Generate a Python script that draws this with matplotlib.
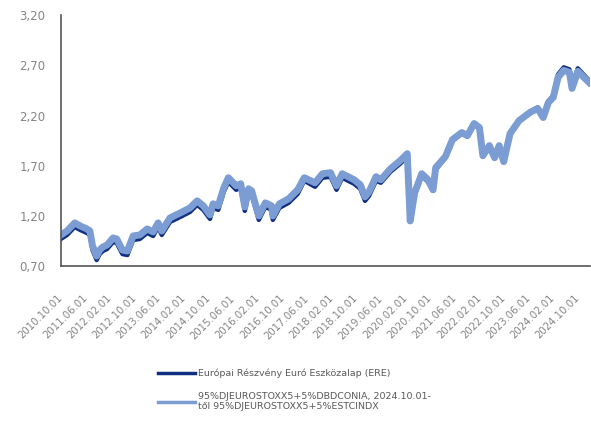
import matplotlib
matplotlib.use("Agg")
import matplotlib.pyplot as plt
import pandas as pd

dates = ["2010-10-01", "2010-12-01", "2011-02-15", "2011-04-10", "2011-06-15",
         "2011-07-15", "2011-08-10", "2011-09-20", "2011-10-20", "2011-11-20",
         "2012-01-01", "2012-03-01", "2012-04-05", "2012-06-01", "2012-07-20",
         "2012-09-15", "2012-11-20", "2013-02-01", "2013-04-01", "2013-05-20",
         "2013-06-25", "2013-09-15", "2014-01-15", "2014-04-01", "2014-06-10",
         "2014-08-10", "2014-10-15", "2014-11-15", "2015-01-05", "2015-03-01",
         "2015-04-15", "2015-07-01", "2015-08-15", "2015-09-25", "2015-11-01",
         "2015-12-01", "2016-02-10", "2016-04-15", "2016-06-15", "2016-06-28",
         "2016-09-01", "2016-12-01", "2017-03-01", "2017-05-05", "2017-08-20",
         "2017-11-01", "2018-01-20", "2018-03-20", "2018-05-15", "2018-09-10",
         "2018-11-10", "2018-12-27", "2019-02-05", "2019-04-15", "2019-06-01",
         "2019-09-05", "2019-12-10", "2020-02-18", "2020-03-18", "2020-05-01",
         "2020-07-10", "2020-09-10", "2020-10-30", "2020-11-25", "2021-03-01",
         "2021-05-10", "2021-08-10", "2021-10-05", "2021-12-10", "2022-02-01",
         "2022-03-07", "2022-05-10", "2022-07-01", "2022-08-15", "2022-09-29",
         "2022-12-01", "2023-03-01", "2023-06-15", "2023-09-01", "2023-10-25",
         "2023-12-15", "2024-02-01", "2024-03-20", "2024-05-15", "2024-07-10",
         "2024-08-05", "2024-10-01", "2025-01-20"]

# fund (ERE)
fund = [0.97, 1.01, 1.09, 1.06, 1.03, 1.01, 0.86, 0.76, 0.82, 0.85,
        0.87, 0.94, 0.93, 0.82, 0.81, 0.96, 0.97, 1.03, 1.00, 1.09,
        1.01, 1.14, 1.20, 1.24, 1.31, 1.26, 1.17, 1.28, 1.26, 1.44,
        1.54, 1.46, 1.48, 1.25, 1.43, 1.41, 1.16, 1.29, 1.26, 1.16,
        1.28, 1.33, 1.42, 1.55, 1.49, 1.58, 1.59, 1.46, 1.58, 1.52,
        1.47, 1.35, 1.40, 1.55, 1.53, 1.64, 1.72, 1.79, 1.14, 1.41,
        1.60, 1.54, 1.45, 1.66, 1.78, 1.95, 2.02, 1.99, 2.11, 2.07,
        1.79, 1.89, 1.77, 1.89, 1.74, 2.02, 2.15, 2.24, 2.28, 2.19,
        2.34, 2.40, 2.61, 2.68, 2.66, 2.50, 2.67, 2.55]

# benchmark
benchmark = [1.01, 1.05, 1.13, 1.10, 1.07, 1.05, 0.90, 0.80, 0.86, 0.89,
             0.91, 0.98, 0.97, 0.86, 0.85, 1.00, 1.01, 1.07, 1.04, 1.13,
             1.05, 1.18, 1.24, 1.28, 1.35, 1.30, 1.21, 1.32, 1.30, 1.48,
             1.58, 1.50, 1.52, 1.29, 1.47, 1.45, 1.20, 1.33, 1.30, 1.20,
             1.32, 1.37, 1.46, 1.58, 1.53, 1.62, 1.63, 1.50, 1.62, 1.56,
             1.51, 1.39, 1.44, 1.59, 1.56, 1.67, 1.75, 1.82, 1.15, 1.43,
             1.62, 1.56, 1.46, 1.68, 1.79, 1.96, 2.03, 2.00, 2.12, 2.08,
             1.80, 1.90, 1.78, 1.90, 1.74, 2.02, 2.15, 2.23, 2.27, 2.18,
             2.33, 2.38, 2.58, 2.65, 2.63, 2.47, 2.64, 2.53]

tick_dates = ["2010-10-01", "2011-06-01", "2012-02-01", "2012-10-01", "2013-06-01",
              "2014-02-01", "2014-10-01", "2015-06-01", "2016-02-01", "2016-10-01",
              "2017-06-01", "2018-02-01", "2018-10-01", "2019-06-01", "2020-02-01",
              "2020-10-01", "2021-06-01", "2022-02-01", "2022-10-01", "2023-06-01",
              "2024-02-01", "2024-10-01"]

y_ticks = [0.70, 1.20, 1.70, 2.20, 2.70, 3.20]

label_fund = "Európai Részvény Euró Eszközalap (ERE)"
label_bench = "95%DJEUROSTOXX5+5%DBDCONIA, 2024.10.01-\ntől 95%DJEUROSTOXX5+5%ESTCINDX"

dark_blue = "#102f80"
light_blue = "#7b9dd4"
grey = "#858585"

x = pd.to_datetime(dates)
ticks = pd.to_datetime(tick_dates)

fig = plt.figure(figsize=(5.91, 4.21), dpi=100)
ax = fig.add_axes([0.103, 0.368, 0.895, 0.596])

ax.plot(x, fund, color=dark_blue, lw=3.2, solid_joinstyle="round", label=label_fund)
ax.plot(x, benchmark, color=light_blue, lw=5, solid_joinstyle="round", label=label_bench)

ax.set_ylim(0.70, 3.20)
ax.set_yticks(y_ticks)
ax.set_yticklabels([f"{v:.2f}".replace(".", ",") for v in y_ticks])
ax.set_xlim(pd.Timestamp("2010-10-01"), pd.Timestamp("2025-01-28"))
ax.set_xticks(ticks)
ax.set_xticklabels([d.strftime("%Y.%m.%d") for d in ticks], rotation=45,
                   ha="right", va="center", rotation_mode="anchor")

ax.tick_params(axis="y", length=0, pad=11, labelsize=8.5, labelcolor=grey)
ax.tick_params(axis="x", length=0, pad=22, labelsize=7.3, labelcolor=grey)

for s in ["top", "right"]:
    ax.spines[s].set_visible(False)
for s in ["left", "bottom"]:
    ax.spines[s].set_color("#555555")
    ax.spines[s].set_linewidth(1.2)

leg = fig.legend(loc="upper left", bbox_to_anchor=(0.253, 0.145), frameon=False,
                 handlelength=3.9, handletextpad=0.3, labelspacing=1.45,
                 prop={"family": ["Liberation Sans Narrow", "DejaVu Sans"], "size": 6.8})
for t in leg.get_texts():
    t.set_color("#595959")
for h in leg.get_lines():
    h.set_linewidth(2.5)

fig.savefig("out.png", dpi=100)
